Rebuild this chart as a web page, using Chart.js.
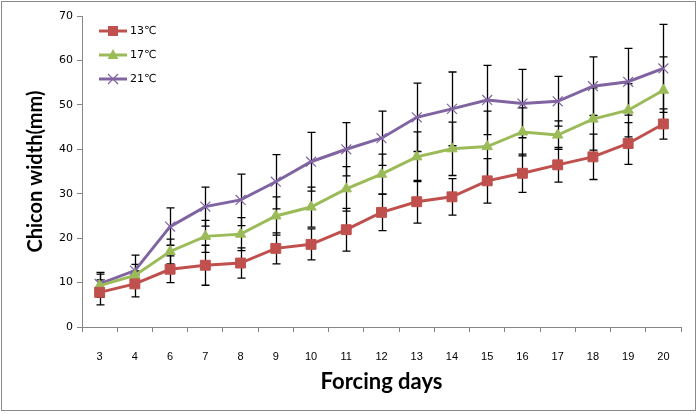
<!DOCTYPE html>
<html>
<head>
<meta charset="utf-8">
<script src="https://cdn.jsdelivr.net/npm/chart.js@4/dist/chart.umd.min.js"></script>
<style>
  html, body { margin: 0; padding: 0; background: #fff; }
  #wrap { width: 698px; height: 414px; position: relative; }
</style>
</head>
<body>
<div id="wrap"><canvas id="chicon"></canvas></div>
<script>
// forcing days on the x axis
const days = ['3', '4', '6', '7', '8', '9', '10', '11', '12', '13', '14', '15', '16', '17', '18', '19', '20'];

// chicon width (mm) per temperature, with error bar half-lengths
const t13 = [7.8, 9.7, 13.0, 13.9, 14.4, 17.7, 18.6, 21.9, 25.8, 28.2, 29.3, 32.9, 34.6, 36.5, 38.3, 41.3, 45.7];
const e13 = [2.8, 2.9, 3.0, 4.5, 3.4, 3.5, 3.5, 4.8, 4.1, 4.8, 4.1, 5.0, 4.3, 3.9, 5.1, 4.7, 3.4];
const t17 = [9.3, 11.6, 17.0, 20.4, 20.9, 25.0, 27.0, 31.1, 34.4, 38.3, 40.1, 40.6, 43.9, 43.2, 46.8, 48.8, 53.3];
const e17 = [2.6, 2.5, 2.8, 3.6, 3.7, 4.3, 4.5, 5.0, 4.5, 5.6, 6.0, 8.0, 5.4, 3.2, 7.0, 6.0, 7.5];
const t21 = [9.7, 12.7, 22.6, 27.1, 28.6, 32.7, 37.2, 40.0, 42.5, 47.2, 49.1, 51.1, 50.3, 50.8, 54.2, 55.2, 58.2];
const e21 = [2.6, 3.5, 4.2, 4.4, 5.8, 6.1, 6.6, 6.0, 6.1, 7.7, 8.3, 7.8, 7.7, 5.6, 6.6, 7.5, 9.9];

const names = ['13\u2103', '17\u2103', '21\u2103'];
const colors = ['#C0504D', '#9BBB59', '#8064A2'];
const errs = [e13, e17, e21];

// error bars, drawn from the y scale
const errorBars = {
    id: 'errorBars',
    beforeDatasetsDraw(chart) {
        const ctx = chart.ctx;
        const y = chart.scales.y;
        ctx.save();
        ctx.strokeStyle = '#000';
        ctx.lineWidth = 1.3;
        chart.data.datasets.forEach((ds, i) => {
            const meta = chart.getDatasetMeta(i);
            meta.data.forEach((pt, j) => {
                const v = ds.data[j];
                const e = errs[i][j];
                const top = y.getPixelForValue(v + e);
                const bot = y.getPixelForValue(v - e);
                const x = Math.round(pt.x) + 0.5;
                ctx.beginPath();
                ctx.moveTo(x, top); ctx.lineTo(x, bot);
                ctx.moveTo(x - 4, top); ctx.lineTo(x + 4, top);
                ctx.moveTo(x - 4, bot); ctx.lineTo(x + 4, bot);
                ctx.stroke();
            });
        });
        ctx.restore();
    }
};

function drawMarker(ctx, kind, x, y, color) {
    ctx.fillStyle = color;
    ctx.strokeStyle = color;
    ctx.beginPath();
    if (kind === 'rect') {
        ctx.rect(x - 5, y - 5, 10, 10);
        ctx.fill();
    } else if (kind === 'triangle') {
        ctx.moveTo(x, y - 6); ctx.lineTo(x + 5.5, y + 4); ctx.lineTo(x - 5.5, y + 4);
        ctx.closePath();
        ctx.fill();
    } else {
        ctx.lineWidth = 1.2;
        ctx.moveTo(x - 5, y - 5); ctx.lineTo(x + 5, y + 5);
        ctx.moveTo(x + 5, y - 5); ctx.lineTo(x - 5, y + 5);
        ctx.stroke();
    }
}

// legend sits inside the plot, top left; plus the outer frame
const insideLegend = {
    id: 'insideLegend',
    afterDraw(chart) {
        const ctx = chart.ctx;
        ctx.save();
        chart.data.datasets.forEach((ds, i) => {
            const yy = 31 + i * 24;
            ctx.strokeStyle = ds.borderColor;
            ctx.lineWidth = 3;
            ctx.beginPath();
            ctx.moveTo(99, yy); ctx.lineTo(127, yy);
            ctx.stroke();
            drawMarker(ctx, ds.pointStyle, 113, yy, ds.borderColor);
            ctx.fillStyle = '#000';
            ctx.font = '11px "DejaVu Sans"';
            ctx.textBaseline = 'middle';
            ctx.fillText(ds.label, 130, yy);
        });
        ctx.strokeStyle = '#8a8a8a';
        ctx.lineWidth = 1;
        ctx.strokeRect(1.5, 1.5, 694, 409);
        ctx.restore();
    }
};

const styles = ['rect', 'triangle', 'crossRot'];
const sets = [t13, t17, t21].map((d, i) => ({
    label: names[i],
    data: d,
    borderColor: colors[i],
    backgroundColor: colors[i],
    borderWidth: 3,
    pointStyle: styles[i],
    pointRadius: i === 0 ? 7 : (i === 2 ? 7 : 6),
    pointBorderWidth: i === 2 ? 1.2 : 1,
    tension: 0
}));

new Chart(document.getElementById('chicon'), {
    type: 'line',
    data: { labels: days, datasets: sets },
    options: {
        responsive: true,
        maintainAspectRatio: false,
        animation: false,
        layout: { padding: { left: 0, top: 16, right: 17, bottom: 0 } },
        plugins: { legend: { display: false }, tooltip: { enabled: false } },
        scales: {
            x: {
                offset: true,
                afterFit(s) { s.height = 87; },
                grid: { offset: true, drawOnChartArea: false, tickLength: 5, color: '#868686' },
                border: { color: '#868686' },
                ticks: { padding: 18, color: '#000', font: { family: 'Liberation Sans', size: 11 }, maxRotation: 0 },
                title: {
                    display: true, text: 'Forcing days', color: '#000',
                    font: { family: 'Lato', size: 22, weight: 'bold' },
                    padding: { top: 0, bottom: 19 }
                }
            },
            y: {
                min: 0, max: 70,
                afterFit(s) { s.width = 82; },
                grid: { drawOnChartArea: false, tickLength: 5, color: '#868686' },
                border: { color: '#868686' },
                ticks: { stepSize: 10, padding: 4, color: '#000', font: { family: 'DejaVu Sans', size: 11 } },
                title: {
                    display: true, text: 'Chicon width(mm)', color: '#000',
                    font: { family: 'Lato', size: 20, weight: 'bold' },
                    padding: { top: 24, bottom: 0 }
                }
            }
        }
    },
    plugins: [errorBars, insideLegend]
});
</script>
</body>
</html>
